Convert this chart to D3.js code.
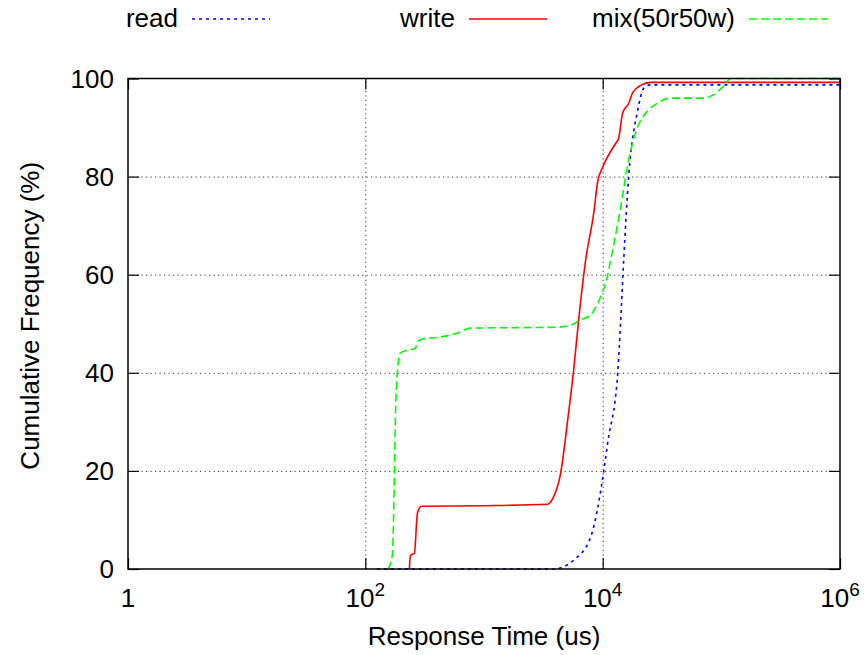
<!DOCTYPE html>
<html>
<head>
<meta charset="utf-8">
<script src="https://cdn.jsdelivr.net/npm/d3@7"></script>
<style>
  body { margin: 0; background: #fff; }
  text { font-family: "Liberation Sans", Arial, sans-serif; fill: #000; }
</style>
</head>
<body>
<div id="vis-container"></div>
<script>
let width = 865, height = 655;
let margin = {left: 128, right: 25, top: 78.5, bottom: 86};

// tick values
let x_ticks = [1, 1e2, 1e4, 1e6];
let x_tick_exp = ["", "2", "4", "6"];
let y_ticks = [0, 20, 40, 60, 80, 100];
let x_grid = [1e2, 1e4];
let y_grid = [20, 40, 60, 80];

// series: response time (us) and cumulative frequency (%)
let read_time = [125, 3855, 5690, 7920, 10190, 11020, 13390, 14190, 15040, 16560, 19720, 22180, 25420, 1e6];
let read_pct  = [0, 0, 1.8, 6.5, 19.8, 25.7, 40, 50.7, 63, 80, 93.5, 98, 98.7, 98.7];

let write_time = [235, 240, 259, 275, 297, 1000, 3435, 3857, 4423, 5070, 5690, 6270, 7190, 8400, 9080, 10000, 12880, 13640, 14750, 16560, 17900, 20930, 25420, 1e6];
let write_pct  = [0, 2.8, 3.2, 11.4, 12.8, 12.9, 13.2, 14.7, 19.5, 30.3, 40.5, 50.7, 63, 72.5, 79, 81.9, 86.8, 87.8, 93, 94.9, 97.1, 98.6, 99.2, 99.2];

let mix_time = [156, 169, 176, 179, 186, 197, 218, 264, 275, 303, 430, 597, 769, 4170, 5370, 6520, 7920, 9610, 10810, 11690, 14190, 16560, 19720, 23070, 29110, 37480, 71120, 84720, 103000, 120300, 1e6];
let mix_pct  = [0, 3, 20, 30, 40, 44, 44.5, 45, 46.3, 46.9, 47.3, 48.1, 49.1, 49.3, 49.7, 50.8, 51.8, 55.5, 59, 63, 73.8, 83.4, 90.1, 92.9, 95, 96, 96, 96.6, 98.3, 100, 100];

let series_names = ["read", "write", "mix(50r50w)"];
let series_colors = ["#0000ff", "#ff0000", "#00ff00"];
let series_dash = ["3,4", null, "8,4"];
let series_data = [
  read_time.map((t, i) => [t, read_pct[i]]),
  write_time.map((t, i) => [t, write_pct[i]]),
  mix_time.map((t, i) => [t, mix_pct[i]])
];

let svg = d3.select("#vis-container").append("svg")
  .attr("width", width)
  .attr("height", height);

let x = d3.scaleLog().domain([1, 1e6]).range([margin.left, width - margin.right]);
let y = d3.scaleLinear().domain([0, 100]).range([height - margin.bottom, margin.top]);
let x0 = x.range()[0], x1 = x.range()[1], y0 = y.range()[0], y1 = y.range()[1];

// grid lines
svg.append("g")
  .attr("transform", `translate(${x0},0)`)
  .call(d3.axisLeft(y).tickValues(y_grid).tickSize(-(x1 - x0)).tickFormat(""))
  .call(g => g.select(".domain").remove())
  .call(g => g.selectAll("line").attr("stroke", "#333").attr("stroke-dasharray", "1.2,3.3"));

svg.append("g")
  .attr("transform", `translate(0,${y0})`)
  .call(d3.axisBottom(x).tickValues(x_grid).tickSize(-(y0 - y1)).tickFormat(""))
  .call(g => g.select(".domain").remove())
  .call(g => g.selectAll("line").attr("stroke", "#333").attr("stroke-dasharray", "1.2,3.3"));

// tick marks (inward, mirrored)
let tick_len = 11;
svg.append("g").attr("transform", `translate(0,${y0})`)
  .call(d3.axisBottom(x).tickValues(x_ticks).tickSize(-tick_len).tickFormat(""));
svg.append("g").attr("transform", `translate(0,${y1})`)
  .call(d3.axisTop(x).tickValues(x_ticks).tickSize(-tick_len).tickFormat(""));
svg.append("g").attr("transform", `translate(${x0},0)`)
  .call(d3.axisLeft(y).tickValues(y_ticks).tickSize(-tick_len).tickFormat(""));
svg.append("g").attr("transform", `translate(${x1},0)`)
  .call(d3.axisRight(y).tickValues(y_ticks).tickSize(-tick_len).tickFormat(""));
svg.selectAll(".domain").remove();
svg.selectAll(".tick line").filter(function() { return !this.getAttribute("stroke-dasharray"); })
  .attr("stroke", "#000").attr("stroke-width", 1.2);

// curves
let line = d3.line()
  .x(d => x(d[0]))
  .y(d => y(d[1]))
  .curve(d3.curveMonotoneX);

series_data.forEach((d, i) => {
  svg.append("path")
    .datum(d)
    .attr("fill", "none")
    .attr("stroke", series_colors[i])
    .attr("stroke-width", 1.6)
    .attr("stroke-dasharray", series_dash[i])
    .attr("d", line);
});

// frame
svg.append("rect")
  .attr("x", x0).attr("y", y1)
  .attr("width", x1 - x0).attr("height", y0 - y1)
  .attr("fill", "none").attr("stroke", "#000").attr("stroke-width", 1.5);

// tick labels
let font_size = 26;
let xl = svg.append("g").selectAll("text")
  .data(x_ticks).enter().append("text")
  .attr("x", d => x(d))
  .attr("y", 607)
  .attr("text-anchor", "middle")
  .style("font-size", font_size + "px");
xl.each(function(d, i) {
  let t = d3.select(this);
  if (d === 1) { t.text("1"); return; }
  t.append("tspan").text("10");
  t.append("tspan").attr("dy", -11).style("font-size", "19px").text(x_tick_exp[i]);
});

svg.append("g").selectAll("text")
  .data(y_ticks).enter().append("text")
  .attr("x", x0 - 14)
  .attr("y", d => y(d))
  .attr("dy", "0.35em")
  .attr("text-anchor", "end")
  .style("font-size", font_size + "px")
  .text(d => d);

// axis titles
svg.append("text")
  .attr("x", (x0 + x1) / 2)
  .attr("y", 645)
  .attr("text-anchor", "middle")
  .style("font-size", font_size + "px")
  .text("Response Time (us)");

svg.append("text")
  .attr("transform", `translate(39,${(y0 + y1) / 2 - 8}) rotate(-90)`)
  .attr("text-anchor", "middle")
  .style("font-size", font_size + "px")
  .text("Cumulative Frequency (%)");

// legend
let legend_text_right = [178, 455, 735];
let legend = svg.selectAll("g.legend")
  .data(series_names)
  .enter().append("g")
  .attr("class", "legend");

legend.append("text")
  .attr("x", (d, i) => legend_text_right[i])
  .attr("y", 27)
  .attr("text-anchor", "end")
  .style("font-size", font_size + "px")
  .text(d => d);

legend.append("line")
  .attr("x1", (d, i) => legend_text_right[i] + 14)
  .attr("x2", (d, i) => legend_text_right[i] + 92)
  .attr("y1", 19).attr("y2", 19)
  .attr("stroke", (d, i) => series_colors[i])
  .attr("stroke-width", 1.6)
  .attr("stroke-dasharray", (d, i) => series_dash[i]);
</script>
</body>
</html>
